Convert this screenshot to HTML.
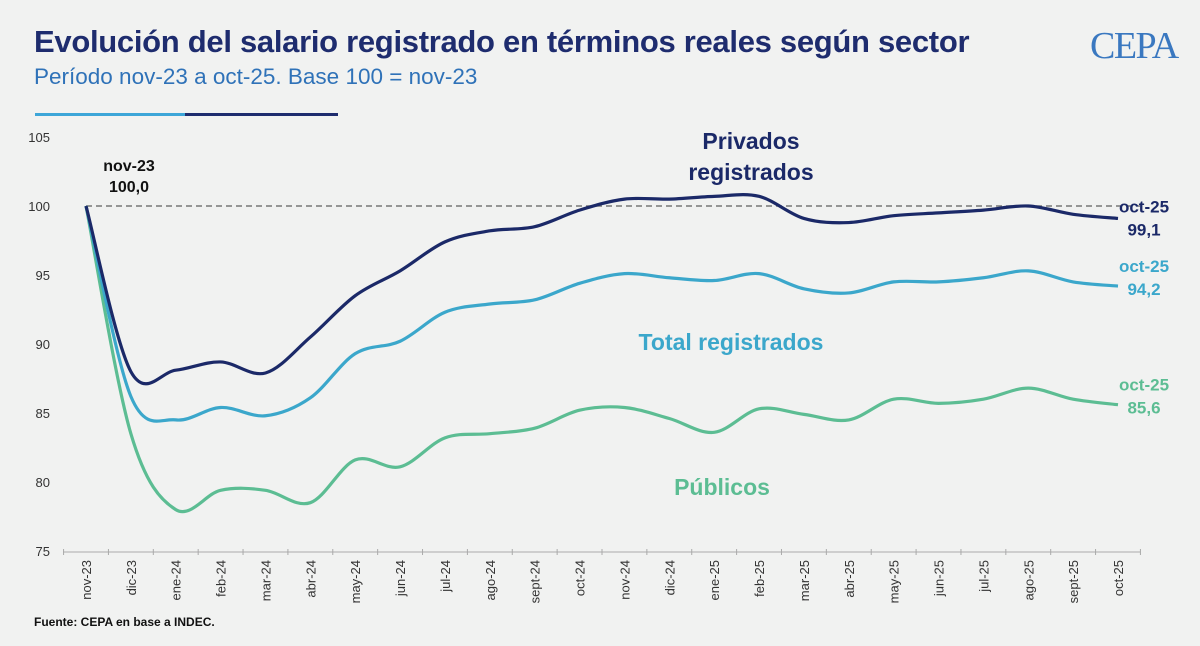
<!DOCTYPE html>
<html><head><meta charset="utf-8">
<style>
html,body{margin:0;padding:0;background:#f1f2f1;}
body{width:1200px;height:646px;overflow:hidden;position:relative;font-family:"Liberation Sans",sans-serif;}
.t{position:absolute;white-space:nowrap;}
</style></head>
<body>
<div class="t" style="left:34px;top:24px;font-size:31px;font-weight:bold;color:#1e2c6e;letter-spacing:-0.3px;">Evolución del salario registrado en términos reales según sector</div>
<div class="t" style="left:34px;top:64px;font-size:22.5px;color:#2f72b8;">Período nov-23 a oct-25. Base 100 = nov-23</div>
<div style="position:absolute;left:35px;top:113px;width:150px;height:3px;background:#3da6d8;"></div>
<div style="position:absolute;left:185px;top:113px;width:153px;height:3px;background:#1e2c6e;"></div>
<div class="t" style="left:1090px;top:24px;font-family:'Liberation Serif',serif;font-size:38px;color:#3a78c0;letter-spacing:-1.5px;">CEPA</div>
<svg id="chart" width="1200" height="646" style="position:absolute;left:0;top:0;"></svg>
<div class="t" style="left:34px;top:615px;font-size:12px;font-weight:bold;color:#111;">Fuente: CEPA en base a INDEC.</div>
<script>
const categories=["nov-23","dic-23","ene-24","feb-24","mar-24","abr-24","may-24","jun-24","jul-24","ago-24","sept-24","oct-24","nov-24","dic-24","ene-25","feb-25","mar-25","abr-25","may-25","jun-25","jul-25","ago-25","sept-25","oct-25"];
const privados=[100,88.0,88.1,88.7,87.9,90.5,93.5,95.3,97.4,98.2,98.5,99.7,100.5,100.5,100.7,100.7,99.1,98.8,99.3,99.5,99.7,100.0,99.4,99.1];
const total=[100,86.2,84.5,85.4,84.8,86.1,89.3,90.2,92.3,92.9,93.2,94.4,95.1,94.8,94.6,95.1,94.0,93.7,94.5,94.5,94.8,95.3,94.5,94.2];
const publicos=[100,83.5,78.0,79.4,79.4,78.5,81.6,81.1,83.2,83.5,83.9,85.2,85.4,84.6,83.6,85.3,84.9,84.5,86.0,85.7,86.0,86.8,86.0,85.6];
const yTicks=[75,80,85,90,95,100,105];
const svg=document.getElementById('chart');
const NS='http://www.w3.org/2000/svg';
const x0=86,dx=(1118-86)/23;
function xs(i){return x0+i*dx;}
function ys(v){return 551-(v-75)*13.8;}
function mk(tag,attrs,txt){const e=document.createElementNS(NS,tag);for(const k in attrs)e.setAttribute(k,attrs[k]);if(txt!==undefined)e.textContent=txt;svg.appendChild(e);return e;}
yTicks.forEach(t=>{
  const e=mk('text',{x:50,y:ys(t)+5,'text-anchor':'end','font-size':13,fill:'#333','font-family':'Liberation Sans'},t);
  
  
});
const ax=mk('line',{x1:63,y1:552,x2:1140,y2:552,stroke:'#aaa','stroke-width':1});


for(let i=0;i<=categories.length;i++){
  const tk=mk('line',{x1:xs(i)-dx/2,y1:549,x2:xs(i)-dx/2,y2:555,stroke:'#aaa','stroke-width':1});
  
  
}
categories.forEach((c,i)=>{
  const X=xs(i)+5,Y=560;
  const e=mk('text',{x:X,y:Y,transform:`rotate(-90 ${X} ${Y})`,'text-anchor':'end','font-size':13,fill:'#333','font-family':'Liberation Sans'},c);
  
  
});
const ref=mk('line',{x1:xs(0),y1:ys(100),x2:1140,y2:ys(100),stroke:'#777','stroke-width':1.6,'stroke-dasharray':'6,4'});


function path(vals){
  const p=vals.map((v,i)=>[xs(i),ys(v)]);
  let d=`M${p[0][0]},${p[0][1]}`;
  for(let i=0;i<p.length-1;i++){
    const a=p[Math.max(0,i-1)],b=p[i],c=p[i+1],e=p[Math.min(p.length-1,i+2)];
    const c1=[b[0]+(c[0]-a[0])/6,b[1]+(c[1]-a[1])/6],c2=[c[0]-(e[0]-b[0])/6,c[1]-(e[1]-b[1])/6];
    d+=` C${c1[0]},${c1[1]} ${c2[0]},${c2[1]} ${c[0]},${c[1]}`;
  }
  return d;
}
[[publicos,'#5cbd93','publicos-line'],[total,'#3ba7cb','total-line'],[privados,'#1b2968','privados-line']].forEach(([v,col,n])=>{
  const e=mk('path',{d:path(v),fill:'none',stroke:col,'stroke-width':3.2});
  
  
});
function label(x,y,txt,col,size,name,anchor){
  const e=mk('text',{x:x,y:y,'text-anchor':anchor||'middle','font-size':size,'font-weight':'bold',fill:col,'font-family':'Liberation Sans'},txt);
  
  
}
label(129,171,'nov-23','#111',16,'start-label-date');
label(129,192,'100,0','#111',16,'start-label-value');
label(751,149,'Privados','#1b2968',23,'privados-series-label');
label(751,180,'registrados','#1b2968',23,'privados-series-label-2');
label(731,350,'Total registrados','#3ba7cb',23,'total-series-label');
label(722,495,'Públicos','#5cbd93',23,'publicos-series-label');
const last=categories.length-1;
label(1144,ys(privados[last])-6,'oct-'+categories[last].split('-')[1],'#1b2968',17,'privados-end-date');
label(1144,ys(privados[last])+17,privados[last].toFixed(1).replace('.',','),'#1b2968',17,'privados-end-value');
label(1144,ys(total[last])-14,'oct-'+categories[last].split('-')[1],'#3ba7cb',17,'total-end-date');
label(1144,ys(total[last])+9,total[last].toFixed(1).replace('.',','),'#3ba7cb',17,'total-end-value');
label(1144,ys(publicos[last])-14,'oct-'+categories[last].split('-')[1],'#5cbd93',17,'publicos-end-date');
label(1144,ys(publicos[last])+9,publicos[last].toFixed(1).replace('.',','),'#5cbd93',17,'publicos-end-value');
</script>
</body></html>
